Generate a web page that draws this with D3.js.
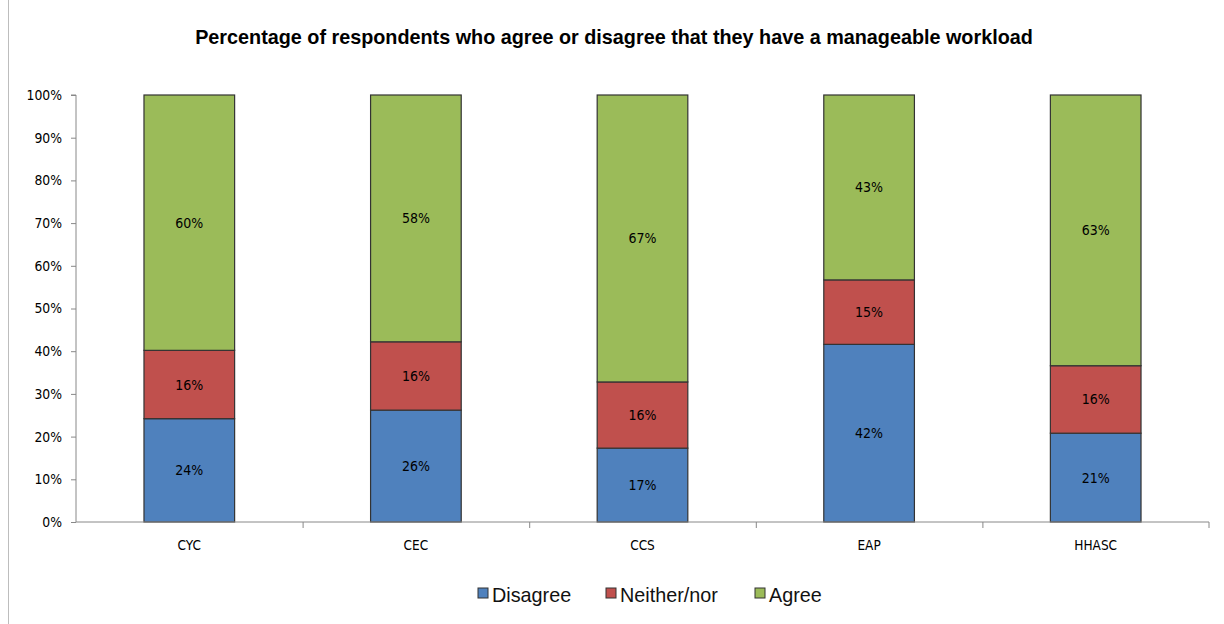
<!DOCTYPE html>
<html><head><meta charset="utf-8">
<script src="https://cdn.jsdelivr.net/npm/d3@7"></script>
<style>body{margin:0;background:#fff}svg{display:block}</style>
</head><body><svg id="c" width="1224" height="624"></svg>
<script>
const categories = ["CYC","CEC","CCS","EAP","HHASC"];
const disagree = [24.2, 26.2, 17.3, 41.6, 20.8];
const neither  = [16.0, 16.0, 15.5, 15.1, 15.8];
const agree    = [59.8, 57.8, 67.2, 43.3, 63.4];
const agreeLabels = ["60%","58%","67%","43%","63%"];
const disagreeLabels = ["24%","26%","17%","42%","21%"];
const neitherLabels = ["16%","16%","16%","15%","16%"];
const seriesNames = ["Disagree","Neither/nor","Agree"];
const yTicks = [0,10,20,30,40,50,60,70,80,90,100];
const colors = ["#4F81BD","#C0504D","#9BBB59"];

(function(){
const svg = d3.select("#c");
const pLeft = 76, pRight = 1209, pTop = 95, pBottom = 522;
const x = d3.scaleBand().domain(categories).range([pLeft, pRight]).paddingInner(0).paddingOuter(0);
const y = d3.scaleLinear().domain([0,100]).range([pBottom, pTop]);
const barW = x.bandwidth()*0.4;
const smallFont = "DejaVu Sans Condensed, DejaVu Sans";

svg.append("line").attr("x1",8.5).attr("x2",8.5).attr("y1",0).attr("y2",624).attr("stroke","#bdbdbd").attr("stroke-width",1);

svg.append("text").attr("x",614).attr("y",44).attr("text-anchor","middle")
  .attr("font-family","Liberation Sans, Arial").attr("font-weight","bold").attr("font-size",19.8)
  .attr("fill","#000").text("Percentage of respondents who agree or disagree that they have a manageable workload");

const data = categories.map((c,i)=>({cat:c, Disagree:disagree[i], "Neither/nor":neither[i], Agree:agree[i]}));
const stack = d3.stack().keys(seriesNames)(data);
const labels = [disagreeLabels, neitherLabels, agreeLabels];

stack.forEach((s,si)=>{
  const g = svg.append("g");
  g.selectAll("rect").data(s).join("rect")
    .attr("x",d=>x(d.data.cat)+x.bandwidth()/2-barW/2)
    .attr("width",barW)
    .attr("y",d=>y(d[1]))
    .attr("height",d=>y(d[0])-y(d[1]))
    .attr("fill",colors[si]).attr("stroke","#333").attr("stroke-width",1.2);
  g.selectAll("text").data(s).join("text")
    .attr("x",d=>x(d.data.cat)+x.bandwidth()/2)
    .attr("y",d=>(y(d[0])+y(d[1]))/2+5)
    .attr("text-anchor","middle").attr("font-family",smallFont).attr("font-size",14)
    .attr("fill","#000").text((d,i)=>labels[si][i]);
});

const ya = svg.append("g").attr("transform",`translate(${pLeft},0)`)
  .call(d3.axisLeft(y).tickValues(yTicks).tickFormat(d=>d+"%").tickSize(5).tickPadding(9));
ya.select(".domain").attr("stroke","#888").attr("d",`M-5,${pTop}H0V${pBottom}`);
ya.selectAll(".tick line").attr("stroke","#888");
ya.selectAll("text").attr("font-family",smallFont).attr("font-size",13.8).attr("fill","#000");

const xa = svg.append("g").attr("transform",`translate(0,${pBottom})`)
  .call(d3.axisBottom(x).tickSize(0).tickPadding(18));
xa.select(".domain").attr("stroke","#888").attr("d",`M${pLeft},0H${pRight}V6`);
xa.selectAll("text").attr("font-family",smallFont).attr("font-size",13.5).attr("fill","#000");
svg.append("g").selectAll("line").data(categories.slice(1)).join("line")
  .attr("x1",d=>x(d)+0.5).attr("x2",d=>x(d)+0.5).attr("y1",pBottom).attr("y2",pBottom+6).attr("stroke","#888");

const legX = [478, 606, 755];
const lg = svg.append("g");
seriesNames.forEach((n,i)=>{
  lg.append("rect").attr("x",legX[i]).attr("y",588).attr("width",10).attr("height",10)
    .attr("fill",colors[i]).attr("stroke","#333").attr("stroke-width",1);
  lg.append("text").attr("x",legX[i]+14).attr("y",602).attr("font-family","Liberation Sans, Arial")
    .attr("font-size",19.8).attr("fill","#111").text(n);
});
})();
</script></body></html>
